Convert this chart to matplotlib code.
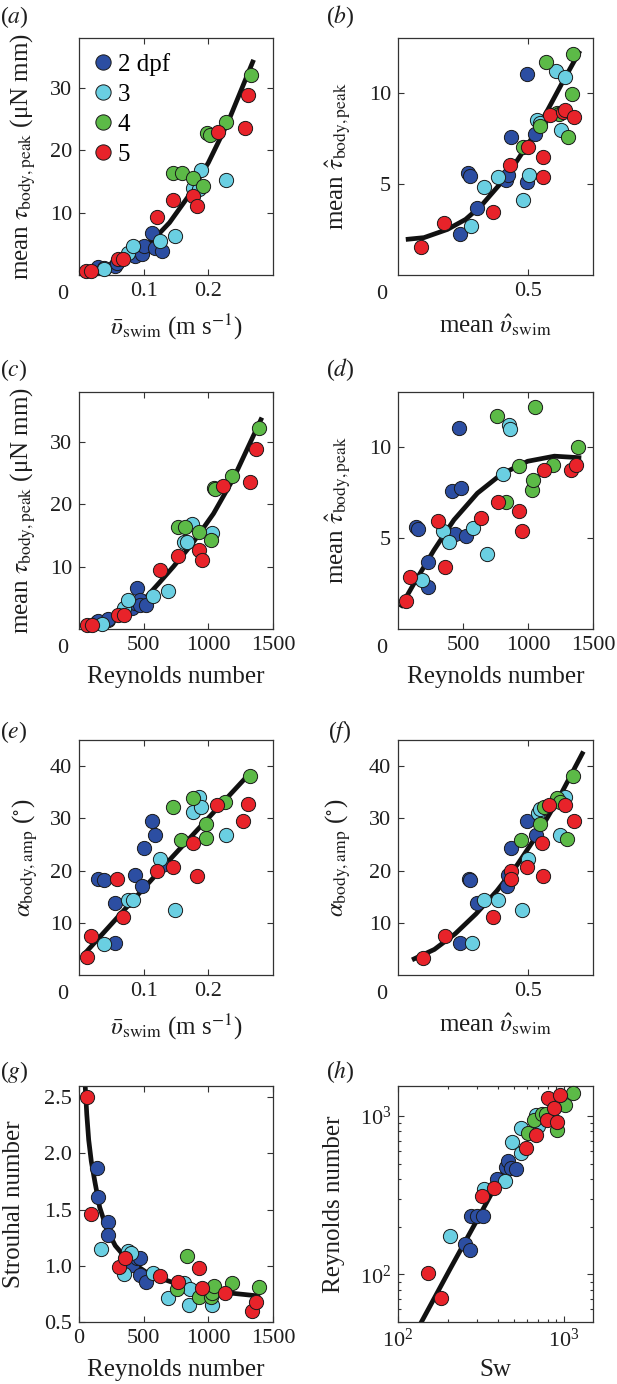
import numpy as np
import matplotlib.pyplot as plt
from matplotlib.lines import Line2D
from matplotlib.ticker import NullFormatter

plt.rcParams['font.family'] = 'serif'
plt.rcParams['font.serif'] = ['Liberation Serif', 'DejaVu Serif']
plt.rcParams['mathtext.fontset'] = 'stix'

groups = ['2 dpf', '3', '4', '5']
colors = ['#2c4ea2', '#6acfe2', '#5cba47', '#e8232a']

# (a) torque vs swimming speed  -- order of sublists: 2, 3, 4, 5 dpf
spd_a = [[0.030, 0.039, 0.056, 0.058, 0.087, 0.098, 0.101, 0.113, 0.118, 0.128],
         [0.039, 0.075, 0.084, 0.126, 0.149, 0.177, 0.186, 0.189, 0.227],
         [0.146, 0.159, 0.177, 0.192, 0.198, 0.202, 0.228, 0.266],
         [0.011, 0.018, 0.061, 0.068, 0.121, 0.146, 0.177, 0.183, 0.215, 0.256, 0.262]]
tau_a = [[1.3, 1.2, 1.4, 2.0, 3.0, 3.3, 4.6, 6.7, 4.3, 3.9],
         [0.9, 3.5, 4.6, 5.4, 6.2, 14.0, 13.8, 16.8, 15.3],
         [16.4, 16.4, 15.6, 14.3, 22.7, 22.5, 24.6, 32.1],
         [0.7, 0.7, 2.5, 2.5, 9.3, 12.0, 12.6, 11.0, 22.9, 23.6, 28.8]]
fit_a_x = [0.02, 0.05, 0.08, 0.10, 0.119, 0.14, 0.169, 0.20, 0.23, 0.27]
fit_a_y = [0.8, 1.5, 2.8, 4.2, 6.1, 8.4, 12.6, 18.0, 24.4, 34.5]

# (b) scaled torque vs scaled speed
vh_b = [[0.239, 0.271, 0.278, 0.304, 0.416, 0.422, 0.435, 0.497, 0.497, 0.526],
        [0.281, 0.330, 0.384, 0.480, 0.503, 0.536, 0.548, 0.606, 0.627, 0.642],
        [0.481, 0.548, 0.571, 0.612, 0.620, 0.655, 0.671, 0.672],
        [0.090, 0.178, 0.364, 0.429, 0.500, 0.558, 0.558, 0.584, 0.634, 0.642, 0.678]]
tauh_b = [[2.27, 5.6, 5.45, 3.66, 5.2, 5.46, 7.56, 11.0, 5.09, 7.75],
          [2.69, 4.8, 5.37, 4.12, 5.51, 8.48, 8.35, 11.2, 7.93, 10.86],
          [7.0, 8.15, 11.7, 8.9, 8.85, 7.56, 9.91, 12.1],
          [1.54, 2.87, 3.43, 6.06, 7.0, 6.47, 5.37, 8.75, 8.95, 9.03, 8.66]]
fit_b_x = [0.03, 0.10, 0.19, 0.26, 0.32, 0.39, 0.45, 0.51, 0.57, 0.63, 0.70]
fit_b_y = [1.95, 2.05, 2.5, 3.05, 3.8, 4.95, 6.1, 7.4, 8.9, 10.5, 12.3]

# (c) torque vs Reynolds number
re_c = [[137, 144, 227, 227, 408, 430, 452, 472, 472, 516],
        [175, 348, 382, 575, 686, 808, 838, 872, 1027],
        [769, 820, 929, 1022, 1040, 1053, 1182, 1388],
        [59, 98, 304, 348, 627, 764, 924, 949, 1117, 1324, 1370]]
tau_c = [[1.2, 1.3, 1.4, 1.6, 3.4, 4.2, 6.6, 4.6, 3.9, 3.8],
         [0.8, 3.3, 4.6, 5.3, 6.1, 13.9, 13.9, 16.8, 15.4],
         [16.3, 16.3, 15.5, 14.2, 22.6, 22.4, 24.6, 32.3],
         [0.6, 0.6, 2.3, 2.3, 9.4, 11.7, 12.7, 11.1, 23.0, 23.6, 28.9]]
fit_c_x = [40, 150, 292, 420, 524, 620, 730, 880, 1040, 1196, 1414]
fit_c_y = [0.6, 1.2, 2.2, 3.6, 5.2, 7.4, 10.0, 13.8, 18.5, 24.2, 33.9]

# (d) scaled torque vs Reynolds number
re_d = [[142, 152, 229, 229, 361, 415, 440, 469, 482, 521],
        [186, 348, 392, 580, 688, 804, 856, 863],
        [765, 830, 928, 1031, 1041, 1057, 1196, 1384],
        [64, 95, 309, 358, 637, 773, 933, 954, 1126, 1327, 1366]]
tauh_d = [[5.6, 5.46, 2.29, 3.67, 5.24, 7.55, 5.2, 11.0, 7.73, 5.09],
          [2.69, 5.37, 4.78, 5.52, 4.1, 8.51, 11.2, 10.96],
          [11.66, 6.99, 8.93, 7.6, 8.19, 12.16, 9.02, 9.98],
          [1.51, 2.84, 5.94, 3.4, 6.07, 6.99, 6.48, 5.37, 8.71, 8.71, 9.02]]
fit_d_x = [18, 121, 276, 430, 611, 791, 997, 1203, 1410]
fit_d_y = [1.18, 2.47, 4.32, 5.98, 7.45, 8.47, 9.2, 9.48, 9.39]

# (e) body amplitude vs swimming speed
spd_e = [[0.030, 0.039, 0.056, 0.056, 0.087, 0.098, 0.101, 0.113, 0.118, 0.128],
         [0.039, 0.075, 0.084, 0.126, 0.149, 0.177, 0.186, 0.189, 0.227],
         [0.146, 0.158, 0.177, 0.196, 0.197, 0.226, 0.264],
         [0.012, 0.018, 0.059, 0.068, 0.120, 0.146, 0.176, 0.182, 0.214, 0.254, 0.262]]
amp_e = [[18.3, 18.1, 13.7, 6.1, 19.1, 17.0, 24.3, 29.4, 26.9, 21.0],
         [5.9, 14.4, 14.4, 22.2, 12.5, 31.3, 34.0, 32.2, 26.9],
         [32.1, 25.9, 33.8, 26.2, 29.0, 33.2, 38.2],
         [3.5, 7.5, 18.4, 11.1, 19.9, 20.7, 25.2, 18.9, 32.5, 29.5, 32.7]]
fit_e_x = [0.007, 0.136, 0.267]
fit_e_y = [3.85, 21.5, 39.0]

# (f) body amplitude vs scaled speed
vh_f = [[0.239, 0.274, 0.278, 0.304, 0.419, 0.422, 0.435, 0.497, 0.530],
        [0.283, 0.332, 0.384, 0.478, 0.500, 0.539, 0.548, 0.623, 0.642],
        [0.474, 0.545, 0.561, 0.610, 0.623, 0.651, 0.674],
        [0.096, 0.180, 0.364, 0.433, 0.433, 0.495, 0.558, 0.554, 0.580, 0.642, 0.676]]
amp_f = [[6.1, 18.3, 18.1, 13.7, 17.0, 19.1, 24.3, 29.4, 26.9],
         [6.1, 14.3, 14.3, 12.5, 22.2, 31.1, 31.8, 26.9, 34.0],
         [25.9, 28.9, 32.1, 33.8, 33.2, 26.0, 38.1],
         [3.3, 7.5, 11.1, 20.0, 18.4, 20.7, 18.9, 25.2, 32.5, 32.6, 29.5]]
fit_f_x = [0.054, 0.14, 0.22, 0.30, 0.38, 0.46, 0.54, 0.62, 0.713]
fit_f_y = [2.9, 4.9, 7.9, 11.7, 16.1, 21.2, 27.2, 34.0, 42.8]

# (g) Strouhal vs Reynolds number
re_g = [[137, 144, 227, 227, 408, 452, 472, 472, 516],
        [170, 348, 382, 400, 575, 691, 808, 851, 859, 1027],
        [761, 838, 924, 1022, 1030, 1040, 1182, 1388],
        [65, 90, 310, 356, 627, 764, 924, 949, 1130, 1336, 1370]]
st_g = [[1.87, 1.61, 1.39, 1.27, 1.01, 1.07, 1.07, 0.92, 0.86],
        [1.15, 0.93, 1.13, 1.11, 0.94, 0.71, 0.85, 0.65, 0.79, 0.65],
        [0.79, 1.09, 0.72, 0.72, 0.76, 0.82, 0.85, 0.81],
        [2.50, 1.46, 0.99, 1.07, 0.91, 0.86, 0.98, 0.80, 0.76, 0.60, 0.68]]
fit_g_x = [48, 60, 75, 95, 124, 160, 214, 280, 369, 550, 808, 1066, 1401]
fit_g_y = [2.6, 2.35, 2.12, 1.93, 1.74, 1.52, 1.33, 1.18, 1.06, 0.92, 0.82, 0.77, 0.73]

# (h) Reynolds number vs swimming number
sw_h = [[253, 270, 277, 301, 325, 396, 445, 460, 480, 513],
        [206, 329, 443, 486, 551, 551, 676, 700, 737],
        [607, 660, 737, 780, 916, 1023, 1143],
        [151, 181, 322, 380, 590, 676, 788, 800, 867, 916, 942]]
re_h = [[155, 142, 233, 233, 233, 403, 480, 520, 470, 460],
        [176, 347, 389, 682, 581, 839, 1013, 870, 1013],
        [779, 940, 1030, 1030, 815, 1175, 1400],
        [102.5, 71, 315, 353, 625, 758, 944, 1303, 1124, 916, 1361]]
fit_h_x = [137, 206, 310, 445]
fit_h_y = [49, 108, 235, 470]

lab_tau = r'mean $\tau_{\mathrm{body,peak}}$ (μN mm)'
lab_tauh = r'mean $\hat{\tau}_{\mathrm{body,peak}}$'
lab_amp = r'$\alpha_{\mathrm{body,amp}}$ ($^{\circ}$)'
lab_spd = r'$\bar{\upsilon}_{\mathrm{swim}}$ (m s$^{-1}$)'
lab_vh = r'mean $\hat{\upsilon}_{\mathrm{swim}}$'
lab_re = 'Reynolds number'

txt = '#1e1e1e'
W, H = 617, 1384
fig = plt.figure(figsize=(W / 100, H / 100), dpi=100)

cols = [(79, 194), (398, 195)]
rows = [(38, 275), (392, 629), (740, 975), (1086, 1322)]


def make_ax(r, c):
    x0, w = cols[c]
    top, bot = rows[r]
    ax = fig.add_axes([x0 / W, 1 - bot / H, w / W, (bot - top) / H])
    for s in ax.spines.values():
        s.set_color('#333333')
        s.set_linewidth(0.9)
    ax.tick_params(which='both', direction='in', top=True, right=True,
                   width=0.8, labelsize=16, pad=5, labelcolor=txt, color='#333333')
    ax.tick_params(which='major', length=4)
    ax.tick_params(which='minor', length=2.5)
    return ax


def panel(ax, xs, ys, fx, fy):
    ax.plot(fx, fy, color='#111111', lw=3.4, solid_capstyle='butt', zorder=2)
    for i in range(4):
        ax.scatter(xs[i], ys[i], s=105, c=colors[i], edgecolors='#1a1a1a',
                   linewidths=0.7, zorder=3, clip_on=False)


def zero(ax):
    ax.text(-0.082, -0.082, '0', transform=ax.transAxes, ha='center', va='center',
            fontsize=16, color=txt)


def labels(ax, xl, yl, ylx):
    ax.set_xlabel(xl, fontsize=18, color=txt)
    ax.set_ylabel(yl, fontsize=18, color=txt)
    ax.xaxis.set_label_coords(0.5, -0.155)
    ax.yaxis.set_label_coords(ylx, 0.5)


spec = [
    (0, 0, spd_a, tau_a, fit_a_x, fit_a_y, (0, 0.3), (0, 38), [0.1, 0.2], [10, 20, 30], lab_spd, lab_tau, -0.21),
    (0, 1, vh_b, tauh_b, fit_b_x, fit_b_y, (0, 0.75), (0, 13), [0.5], [5, 10], lab_vh, lab_tauh, -0.23),
    (1, 0, re_c, tau_c, fit_c_x, fit_c_y, (0, 1500), (0, 38), [500, 1000, 1500], [10, 20, 30], lab_re, lab_tau, -0.21),
    (1, 1, re_d, tauh_d, fit_d_x, fit_d_y, (0, 1500), (0, 13), [500, 1000, 1500], [5, 10], lab_re, lab_tauh, -0.23),
    (2, 0, spd_e, amp_e, fit_e_x, fit_e_y, (0, 0.3), (0, 45), [0.1, 0.2], [10, 20, 30, 40], lab_spd, lab_amp, -0.20),
    (2, 1, vh_f, amp_f, fit_f_x, fit_f_y, (0, 0.75), (0, 45), [0.5], [10, 20, 30, 40], lab_vh, lab_amp, -0.23),
]

axes = []
for r, c, xs, ys, fx, fy, xl, yl, xt, yt, xlab, ylab, ylx in spec:
    ax = make_ax(r, c)
    panel(ax, xs, ys, fx, fy)
    ax.set_xlim(*xl)
    ax.set_ylim(*yl)
    ax.set_xticks(xt)
    ax.set_yticks(yt)
    zero(ax)
    labels(ax, xlab, ylab, ylx)
    axes.append(ax)

# (g)
ax = make_ax(3, 0)
panel(ax, re_g, st_g, fit_g_x, fit_g_y)
ax.set_xlim(0, 1500)
ax.set_ylim(0.5, 2.6)
ax.set_xticks([0, 500, 1000, 1500])
ax.set_yticks([0.5, 1.0, 1.5, 2.0, 2.5])
ax.set_yticklabels(['0.5', '1.0', '1.5', '2.0', '2.5'])
labels(ax, lab_re, 'Strouhal number', -0.28)
axes.append(ax)

# (h)
ax = make_ax(3, 1)
panel(ax, sw_h, re_h, fit_h_x, fit_h_y)
ax.set_xscale('log')
ax.set_yscale('log')
ax.set_xlim(100, 1500)
ax.set_ylim(50, 1550)
ax.xaxis.set_minor_formatter(NullFormatter())
ax.yaxis.set_minor_formatter(NullFormatter())
labels(ax, 'Sw', lab_re, -0.27)
axes.append(ax)

# legend in (a)
handles = [Line2D([], [], ls='none', marker='o', markersize=11, markerfacecolor=colors[i],
                  markeredgecolor='#1a1a1a', markeredgewidth=0.7) for i in range(4)]
axes[0].legend(handles, groups, loc='upper left', frameon=False, fontsize=18,
               handlelength=0.7, handletextpad=0.25, labelspacing=0.3,
               borderaxespad=0.4, borderpad=0.2)

tags = ['a', 'b', 'c', 'd', 'e', 'f', 'g', 'h']
tag_xy = [(14, 17), (340, 17), (14, 370), (340, 370), (14, 732), (340, 732), (14, 1072), (340, 1072)]
for t, (x, y) in zip(tags, tag_xy):
    fig.text(x / W, 1 - y / H, '($%s$)' % t, ha='center', va='center', fontsize=17, color=txt)

fig.savefig('out.png', dpi=100)
